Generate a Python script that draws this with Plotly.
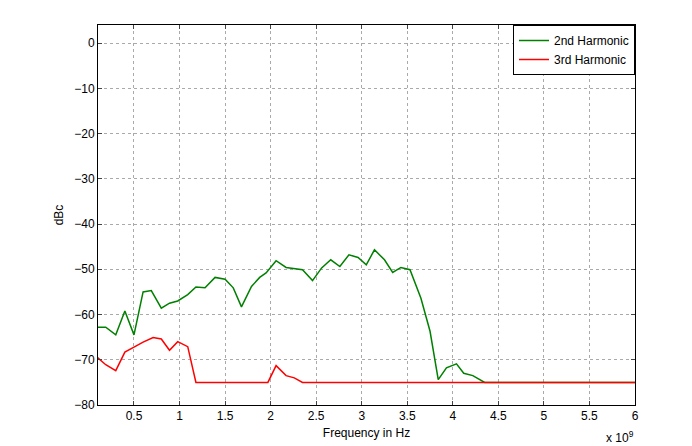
import plotly.graph_objects as go

f2 = [0.1,0.19,0.30,0.40,0.50,0.60,0.69,0.80,0.89,0.98,1.09,1.18,1.28,1.39,1.50,1.59,1.68,1.79,1.88,1.95,2.06,2.17,2.35,2.46,2.56,2.66,2.76,2.86,2.96,3.05,3.14,3.25,3.34,3.43,3.53,3.65,3.75,3.84,3.93,4.04,4.12,4.22,4.35,6.0]
h2 = [-62.8,-62.8,-64.5,-59.2,-64.5,-55,-54.7,-58.6,-57.5,-57,-55.6,-53.9,-54.1,-51.8,-52.2,-54.1,-58.3,-53.8,-51.8,-50.8,-48.1,-49.6,-50.1,-52.5,-49.7,-47.9,-49.4,-46.8,-47.4,-49,-45.7,-47.9,-50.7,-49.6,-50.1,-56.4,-63.7,-74.4,-71.8,-70.9,-73,-73.5,-75,-75]
f3 = [0.1,0.19,0.30,0.40,0.51,0.60,0.71,0.80,0.89,0.98,1.09,1.18,1.97,2.06,2.17,2.26,2.35,6.0]
h3 = [-69.5,-71.1,-72.4,-68.3,-67.1,-66.1,-65.1,-65.4,-67.9,-66,-67.1,-75,-75,-71.3,-73.5,-74,-75,-75]
xticks = [0.5,1,1.5,2,2.5,3,3.5,4,4.5,5,5.5,6]
xlabels = ["0.5","1","1.5","2","2.5","3","3.5","4","4.5","5","5.5","6"]
yticks = [0,-10,-20,-30,-40,-50,-60,-70,-80]

fig = go.Figure()
fig.add_trace(go.Scatter(x=f2, y=h2, mode="lines", name="2nd Harmonic", line=dict(color="#008000", width=1.5)))
fig.add_trace(go.Scatter(x=f3, y=h3, mode="lines", name="3rd Harmonic", line=dict(color="#ff0000", width=1.5)))
ax = dict(showline=True, linecolor="black", mirror="ticks", ticks="inside", ticklen=4,
          showgrid=True, gridcolor="#aaa", griddash="dot", gridwidth=1, zeroline=False,
          tickfont=dict(size=12, color="black"))
fig.update_xaxes(**ax, range=[0.105, 6], tickvals=xticks, ticktext=xlabels,
                 title=dict(text="Frequency in Hz", font=dict(size=12, color="black"), standoff=6))
fig.update_yaxes(**ax, range=[-80, 4], tickvals=yticks,
                 title=dict(text="dBc", font=dict(size=12, color="black"), standoff=8))
fig.add_annotation(x=1, y=0, xref="paper", yref="paper", xanchor="center", yanchor="top",
                   yshift=-22, xshift=-15, text="x 10<sup>9</sup>", showarrow=False, font=dict(size=12, color="black"))
fig.update_layout(width=692, height=446, plot_bgcolor="white", paper_bgcolor="white",
                  margin=dict(l=90, r=65, t=17, b=49, autoexpand=False), font=dict(family="Arial, Liberation Sans", color="black"),
                  legend=dict(x=1, y=1, xanchor="right", yanchor="top", bordercolor="black", borderwidth=1,
                              bgcolor="white", font=dict(size=12), tracegroupgap=0, itemwidth=30))
fig.write_html("out.html")
